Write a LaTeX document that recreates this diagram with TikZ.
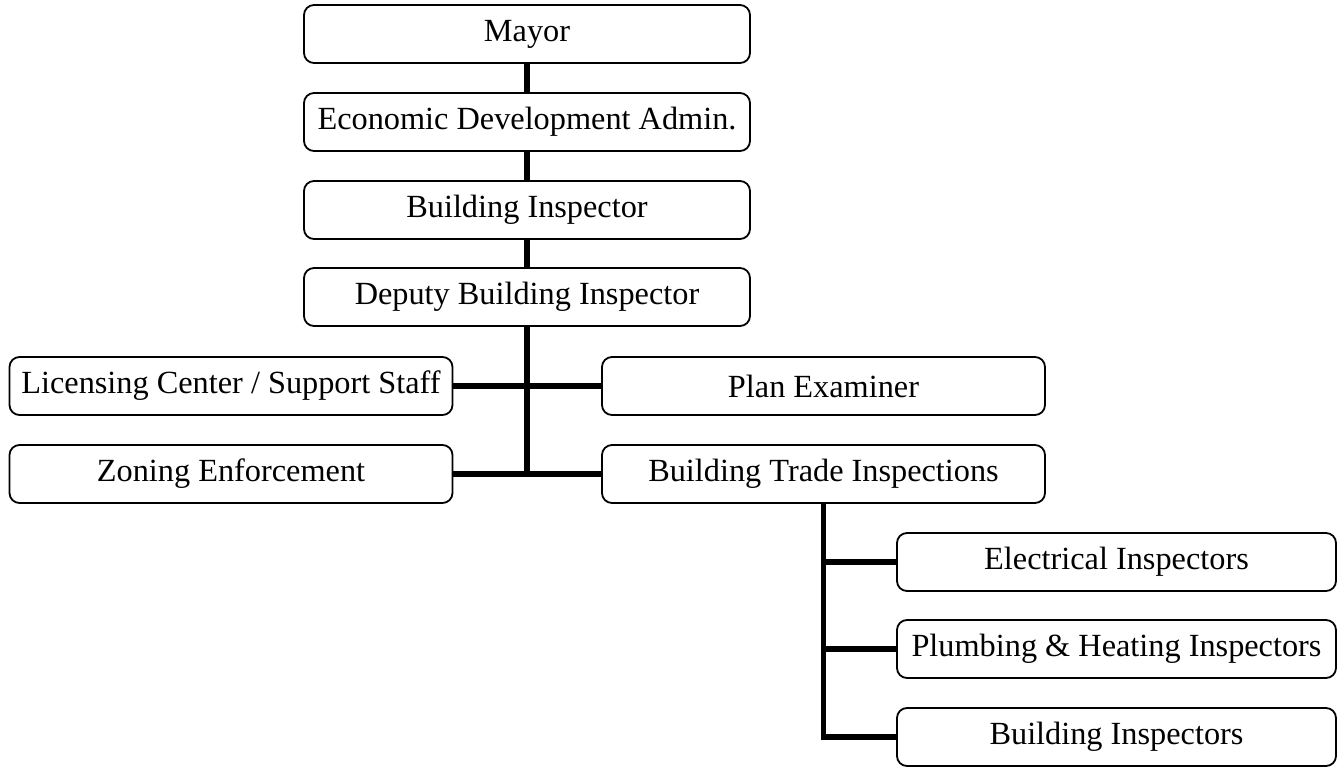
\documentclass[tikz,border=0pt]{standalone}
\usepackage{fontspec}
\setmainfont{Liberation Serif}
\begin{document}
\begin{tikzpicture}[x=1pt,y=-1pt,
  orgbox/.style={draw=black, line width=1.8pt, rounded corners=10pt, fill=white,
    minimum height=58pt, inner sep=0pt, font=\fontsize{32.3}{39}\selectfont},
  wide/.style={orgbox, minimum width=446pt},
  side/.style={orgbox, minimum width=443pt},
  sub/.style={orgbox, minimum width=439pt},
  link/.style={line width=5.5pt, line join=miter}]
\useasboundingbox (0,0) rectangle (1344,767);
\node[wide] (mayor) at (527,34) {Mayor};
\node[wide] (eda) at (527,122) {Economic Development Admin.};
\node[wide] (bi) at (527,210) {Building Inspector};
\node[wide] (dbi) at (527,297) {Deputy Building Inspector};
\node[side] (lic) at (231,386) {Licensing Center / Support Staff};
\node[side] (plan) at (823.5,386) {Plan Examiner};
\node[side] (zon) at (231,474) {Zoning Enforcement};
\node[side] (trade) at (823.5,474) {Building Trade Inspections};
\node[sub] (elec) at (1116.5,562) {Electrical Inspectors};
\node[sub] (plumb) at (1116.5,649) {Plumbing \& Heating Inspectors};
\node[sub] (bins) at (1116.5,737) {Building Inspectors};
\coordinate (trunkend) at (527,474);
\draw[link] (mayor.south) -- (eda.north);
\draw[link] (eda.south) -- (bi.north);
\draw[link] (bi.south) -- (dbi.north);
\draw[link] (dbi.south) -- (trunkend);
\draw[link] (lic.east) -- (plan.west);
\draw[link] (zon.east) -- (trade.west);
\draw[link] (trade.south) -- (trade.south |- bins.west) -- (bins.west);
\draw[link] (trade.south |- elec.west) -- (elec.west);
\draw[link] (trade.south |- plumb.west) -- (plumb.west);
\end{tikzpicture}
\end{document}
